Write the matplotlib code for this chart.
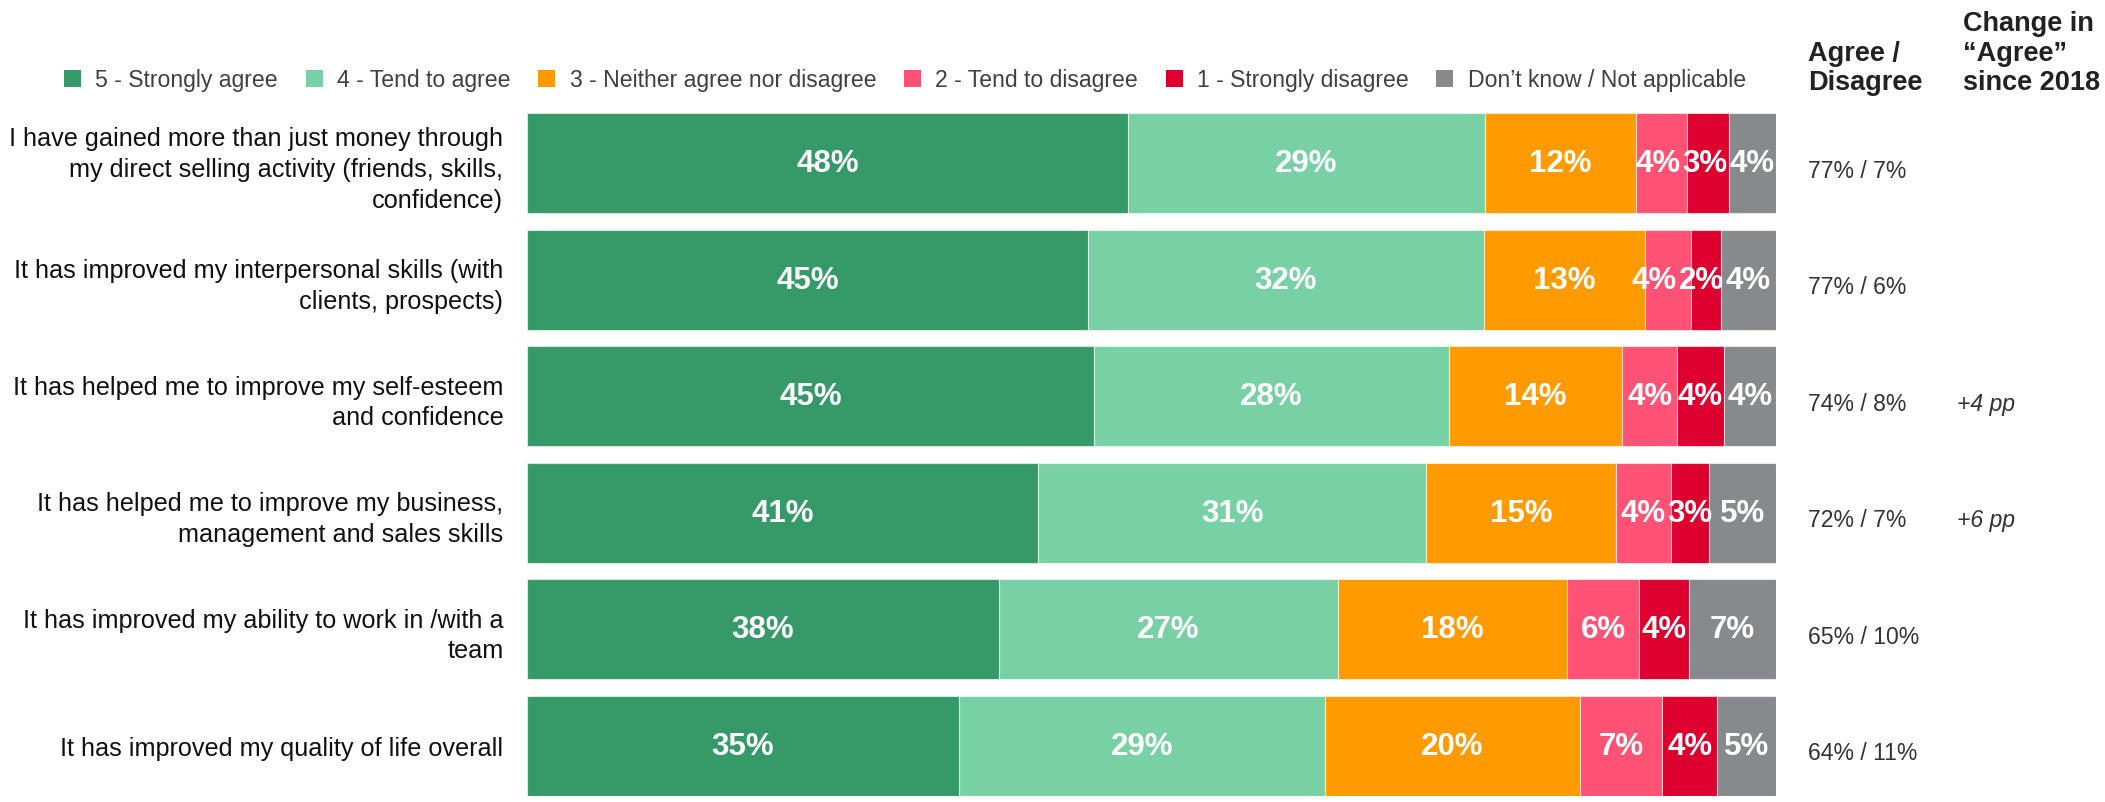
import matplotlib
matplotlib.use("Agg")
import matplotlib.pyplot as plt
from matplotlib.patches import Patch
from matplotlib.transforms import blended_transform_factory

plt.rcParams['font.family'] = ['Liberation Sans', 'DejaVu Sans']

categories = [
    "I have gained more than just money through\nmy direct selling activity (friends, skills,\nconfidence)",
    "It has improved my interpersonal skills (with\nclients, prospects)",
    "It has helped me to improve my self-esteem\nand confidence",
    "It has helped me to improve my business,\nmanagement and sales skills",
    "It has improved my ability to work in /with a\nteam",
    "It has improved my quality of life overall",
]
series_names = ["5 - Strongly agree", "4 - Tend to agree", "3 - Neither agree nor disagree",
                "2 - Tend to disagree", "1 - Strongly disagree", "Don\u2019t know / Not applicable"]
strongly_agree = [48.1, 44.9, 45.4, 40.9, 37.8, 34.6]
tend_agree = [28.6, 31.7, 28.4, 31.1, 27.1, 29.3]
neither = [12.1, 12.9, 13.9, 15.2, 18.4, 20.4]
tend_disagree = [4.1, 3.7, 4.4, 4.4, 5.7, 6.6]
strongly_disagree = [3.3, 2.4, 3.7, 3.0, 4.0, 4.4]
dont_know = [3.8, 4.4, 4.2, 5.4, 7.0, 4.7]
agree_total = [77, 77, 74, 72, 65, 64]
disagree_total = [7, 6, 8, 7, 10, 11]
change_2018 = ["", "", "+4 pp", "+6 pp", "", ""]

colors = ["#359968", "#77d1a5", "#ff9a00", "#ff5275", "#dd002e", "#878a8c"]
series = [strongly_agree, tend_agree, neither, tend_disagree, strongly_disagree, dont_know]

W, H = 2105, 803
fig = plt.figure(figsize=(W / 100, H / 100), dpi=100)
ax = fig.add_axes([527 / W, 6 / H, (1776 - 527) / W, (797 - 114) / H])

ypos = list(range(len(categories)))
left = [0.0] * len(categories)
row_labels = [[] for _ in ypos]
for vals, col in zip(series, colors):
    ax.barh(ypos, vals, left=left, height=0.86, color=col, edgecolor=(1, 1, 1, 0.6), linewidth=0.8)
    for i, v in enumerate(vals):
        t = ax.text(left[i] + v / 2, i, f"{round(v)}%", ha='center', va='center',
                    color='white', fontsize=22.5, fontweight='bold')
        row_labels[i].append(t)
    left = [l + v for l, v in zip(left, vals)]

ax.set_xlim(0, 100)
ax.set_ylim(len(categories) - 1 + 0.43, -0.43)
ax.set_yticks(ypos)
ax.set_yticklabels(categories, fontsize=18.2, color='#111111', linespacing=1.35)
ax.tick_params(axis='y', length=0, pad=17)
ax.set_xticks([])
for s in ax.spines.values():
    s.set_visible(False)

# nudge overlapping segment labels leftwards (right to left)
fig.canvas.draw()
renderer = fig.canvas.get_renderer()
px_per_unit = ax.transData.transform((1, 0))[0] - ax.transData.transform((0, 0))[0]
for labels in row_labels:
    for k in range(len(labels) - 2, -1, -1):
        a = labels[k].get_window_extent(renderer)
        b = labels[k + 1].get_window_extent(renderer)
        overlap = a.x1 - b.x0 + 2
        if overlap > 0:
            x, y = labels[k].get_position()
            labels[k].set_position((x - overlap / px_per_unit, y))

tr = blended_transform_factory(fig.transFigure, ax.transData)
for i in ypos:
    ax.text(1808 / W, i + 0.06, f"{agree_total[i]}% / {disagree_total[i]}%", transform=tr,
            ha='left', va='center', fontsize=16.6, color='#333333')
    if change_2018[i]:
        ax.text(1957 / W, i + 0.06, change_2018[i], transform=tr,
                ha='left', va='center', fontsize=16.6, color='#333333', style='italic')

fig.text(1808 / W, 1 - 96 / H, "Agree /\nDisagree", ha='left', va='bottom',
         fontsize=19.5, fontweight='bold', color='#222222', linespacing=1.17)
fig.text(1963 / W, 1 - 96 / H, "Change in\n\u201cAgree\u201d\nsince 2018", ha='left', va='bottom',
         fontsize=19.5, fontweight='bold', color='#222222', linespacing=1.17)

handles = [Patch(facecolor=c, edgecolor='none') for c in colors]
fig.legend(handles, series_names, loc='center left', bbox_to_anchor=(64 / W, 1 - 81 / H),
           ncol=6, frameon=False, fontsize=16.6, handlelength=0.74, handleheight=0.74,
           handletextpad=0.62, columnspacing=1.2, borderpad=0, borderaxespad=0,
           labelcolor='#404040')

fig.savefig("out.png", dpi=100)
